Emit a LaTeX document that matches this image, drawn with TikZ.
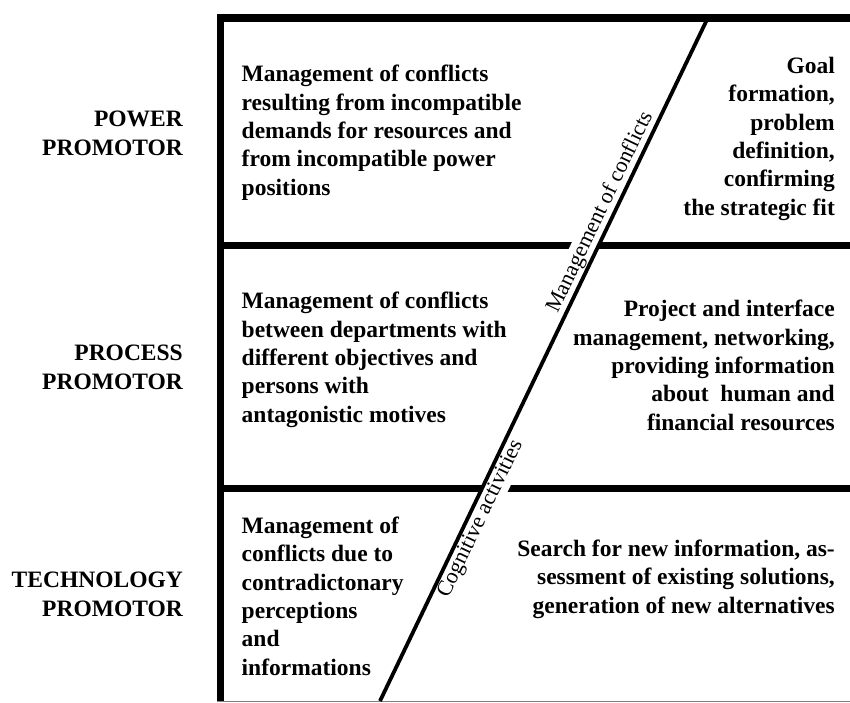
\documentclass[tikz,border=0pt]{standalone}
\usepackage{fontspec}
\setmainfont{Liberation Serif}
\begin{document}
\begin{tikzpicture}[x=1pt,y=-1pt,
  frameline/.style={line width=7pt},
  body/.style={font=\fontsize{23.5}{28.3}\selectfont\bfseries, inner sep=0pt},
  leftcol/.style={body, align=left, anchor=base west},
  rightcol/.style={body, align=right, anchor=base east},
  rowlab/.style={body, align=right, anchor=base east},
  difflab/.style={font=\fontsize{22}{24}\selectfont, fill=white, inner sep=2.5pt, sloped}]
\useasboundingbox (0,0) rectangle (850,702);

% frame
\draw[line width=8pt] (217,17.5) -- (850,17.5);
\draw[frameline] (220.5,13.5) -- (220.5,702);
\draw[frameline] (224,245) -- (850,245);
\draw[frameline] (224,488) -- (850,488);
\draw[gray, line width=1pt] (217,701) -- (850,701);

% diagonal with labels
\coordinate (dtop) at (708,17.5);
\coordinate (dbot) at (380,701);
\path (dbot) -- (dtop)
  node[pos=0.707, above, difflab] (mc) {Management of conflicts}
  node[pos=0.274, below, difflab] (ca) {Cognitive activities};
\draw[line width=3.8pt] (dbot) -- (dtop);

% row labels (anchor = baseline of last line)
\node[rowlab] (l1) at (183,155) {POWER\\PROMOTOR};
\node[rowlab] (l2) at (183,389) {PROCESS\\PROMOTOR};
\node[rowlab] (l3) at (183,616) {TECHNOLOGY\\PROMOTOR};

% cells (anchor = baseline of last line)
\node[leftcol] (p1) at (241.5,195) {Management of conflicts\\resulting from incompatible\\demands for resources and\\from incompatible power\\positions};
\node[rightcol] (p2) at (835,215) {Goal\\formation,\\problem\\definition,\\confirming\\the strategic fit};
\node[leftcol] (r1) at (241.5,422) {Management of conflicts\\between departments with\\different objectives and\\persons with\\antagonistic motives};
\node[rightcol] (r2) at (835,430) {Project and interface\\management, networking,\\providing information\\about\ \ human and\\financial resources};
\node[leftcol] (t1) at (241.5,675) {Management of\\conflicts due to\\contradictonary\\perceptions\\and\\informations};
\node[rightcol] (t2) at (835,613) {Search for new information, as-\\sessment of existing solutions,\\generation of new alternatives};
\end{tikzpicture}
\end{document}
